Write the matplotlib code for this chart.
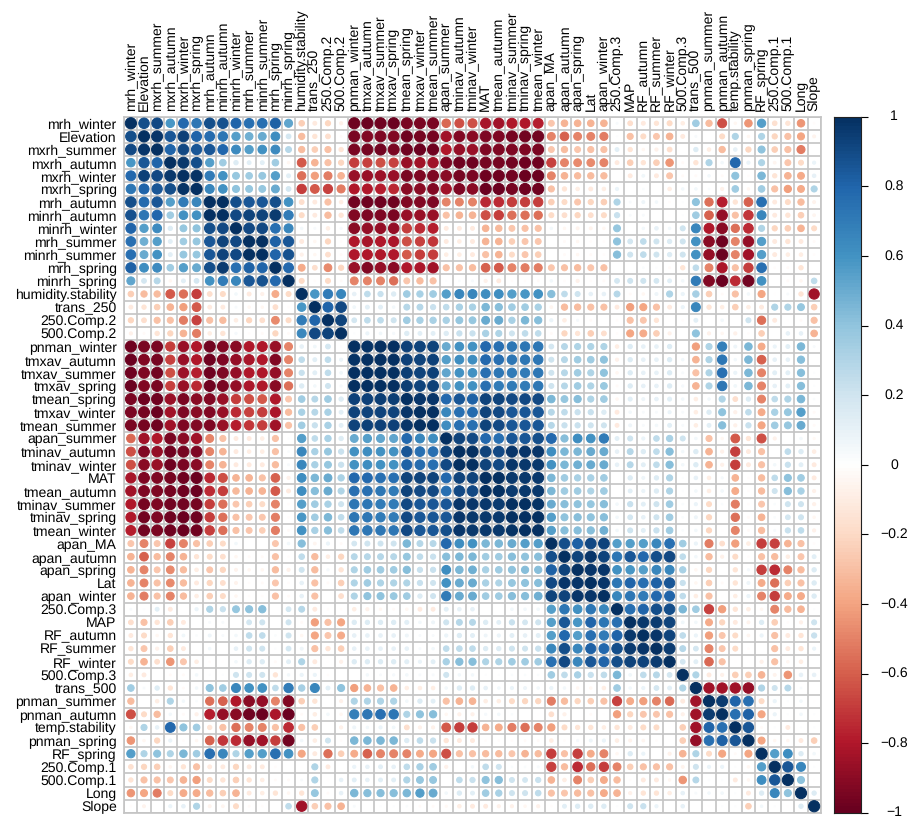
import numpy as np
import matplotlib
matplotlib.use("Agg")
import matplotlib.pyplot as plt
from matplotlib.collections import PatchCollection
from matplotlib.colors import LinearSegmentedColormap
from matplotlib.patches import Circle

plt.rcParams['font.family'] = ['Liberation Sans', 'DejaVu Sans']
plt.rcParams['text.hinting'] = 'no_hinting'
plt.rcParams['text.hinting_factor'] = 1

labels = ["mrh_winter", "Elevation", "mxrh_summer", "mxrh_autumn", "mxrh_winter", "mxrh_spring",
          "mrh_autumn", "minrh_autumn", "minrh_winter", "mrh_summer", "minrh_summer", "mrh_spring",
          "minrh_spring", "humidity.stability", "trans_250", "250.Comp.2", "500.Comp.2", "pnman_winter",
          "tmxav_autumn", "tmxav_summer", "tmxav_spring", "tmean_spring", "tmxav_winter", "tmean_summer",
          "apan_summer", "tminav_autumn", "tminav_winter", "MAT", "tmean_autumn", "tminav_summer",
          "tminav_spring", "tmean_winter", "apan_MA", "apan_autumn", "apan_spring", "Lat", "apan_winter",
          "250.Comp.3", "MAP", "RF_autumn", "RF_summer", "RF_winter", "500.Comp.3", "trans_500",
          "pnman_summer", "pnman_autumn", "temp.stability", "pnman_spring", "RF_spring", "250.Comp.1",
          "500.Comp.1", "Long", "Slope"]

# correlations x100
# humidity group, upper triangle of rows 0-11
humidity_upper = [
    [88, 90, 58, 78, 72, 88, 87, 80, 75, 75, 82, 52],
    [97, 85, 93, 80, 77, 72, 55, 48, 50, 62, 18],
    [80, 90, 85, 85, 79, 63, 55, 60, 63, 28],
    [96, 88, 55, 35, 15, 12, 12, 35, -5],
    [98, 70, 60, 38, 35, 38, 55, 12],
    [65, 60, 40, 38, 38, 50, 18],
    [99, 88, 85, 85, 88, 60],
    [90, 92, 92, 95, 70],
    [90, 90, 75, 65],
    [99, 82, 85],
    [80, 87],
    [78],
]

# rows 13-52 against the first 13 columns
left_block = [
    [-25, -32, -32, -62, -55, -70, -18, -20, 5, -12, -8, -38, -20],
    [-12, -15, -25, -35, -42, -62, -12, -12, 3, -5, -5, -18, -2],
    [-22, -18, -30, -30, -52, -68, -30, -32, -10, -22, -18, -48, -20],
    [-8, -3, -15, -22, -35, -52, -10, -15, 4, -2, -3, -22, -3],
    [-98, -95, -95, -70, -87, -80, -97, -92, -90, -80, -80, -87, -50],
    [-99, -92, -96, -68, -87, -80, -98, -93, -88, -83, -80, -92, -50],
    [-98, -93, -97, -65, -86, -78, -98, -93, -88, -80, -80, -88, -50],
    [-99, -92, -95, -68, -87, -76, -98, -95, -88, -82, -80, -90, -55],
    [-95, -98, -98, -87, -95, -90, -92, -87, -70, -65, -62, -80, -28],
    [-95, -96, -99, -85, -93, -90, -92, -87, -75, -68, -70, -82, -32],
    [-95, -96, -98, -85, -94, -92, -93, -87, -78, -72, -70, -85, -30],
    [-58, -85, -80, -95, -90, -85, -50, -30, -12, -12, -10, -30, 1],
    [-65, -92, -88, -98, -96, -93, -50, -35, -12, -10, -10, -30, 2],
    [-65, -90, -87, -98, -95, -90, -50, -35, -12, -12, -12, -32, 3],
    [-83, -94, -93, -96, -98, -99, -76, -65, -35, -35, -30, -60, -8],
    [-85, -94, -94, -96, -98, -99, -75, -70, -33, -35, -35, -62, -12],
    [-80, -96, -94, -97, -97, -96, -70, -55, -28, -25, -20, -50, -2],
    [-80, -97, -93, -98, -99, -98, -70, -55, -30, -28, -28, -52, -2],
    [-78, -97, -95, -98, -99, -98, -70, -55, -30, -28, -25, -52, -3],
    [-28, -50, -28, -68, -50, -30, -25, -20, 5, 0, 0, -28, 5],
    [-35, -60, -32, -50, -35, -15, -20, -18, -5, -3, -3, -30, -2],
    [-35, -50, -28, -48, -32, -10, -28, -22, -7, -5, -5, -32, -8],
    [-35, -50, -30, -48, -32, -12, -22, -18, -7, -2, -3, -28, -2],
    [-35, -52, -30, -50, -32, -10, -25, -20, -5, -2, -2, -30, -3],
    [3, 1, 12, -12, 0, 8, 30, 22, 38, 40, 42, 0, 18],
    [-18, -30, -15, -25, -12, 0, 3, 3, 0, 18, 20, 0, 20],
    [-12, -20, -5, -15, 6, 2, 7, 3, 5, 25, 25, 2, 20],
    [-15, -28, -8, -25, -12, 0, 5, 0, 10, 20, 20, 1, 18],
    [-20, -35, -18, -45, -28, -10, -2, -1, 5, 15, 15, -3, 12],
    [-10, -12, 0, -3, -3, 5, 1, 1, 20, 20, 20, -15, 5],
    [35, 3, 15, -15, -3, 5, 40, 35, 65, 60, 60, 25, 70],
    [-32, 0, -10, 30, 5, 2, -55, -60, -80, -90, -88, -50, -92],
    [-65, -20, -32, 5, -3, -8, -78, -88, -90, -98, -99, -82, -99],
    [-5, 30, 10, 78, 40, 35, -15, -30, -55, -50, -50, -30, -75],
    [-45, -5, -22, 8, -2, -5, -60, -72, -75, -88, -85, -70, -97],
    [55, 30, 40, 30, 45, 35, 75, 65, 30, 55, 55, 75, 60],
    [-17, -22, -25, -6, -15, -30, -12, -12, -22, -12, -12, -2, 0],
    [-15, -30, -30, -28, -35, -42, -20, -15, -25, -15, -10, -3, -3],
    [-45, -40, -52, -20, -38, -38, -32, -25, -35, -12, -10, -15, -5],
    [-2, -7, 0, 8, 10, 30, -7, -6, -20, -3, -2, 0, 25],
]

# rows 13-51, upper triangle out to the last column
main_upper = [
    [58, 70, 65, 10, 25, 22, 15, 35, 32, 35, 55, 65, 65, 62, 62, 55, 58, 60, 42, 25, 20, 10, 10,
     28, -3, -5, 7, 30, 8, 33, -25, -3, -30, 5, -40, -1, 3, -15, -85],
    [80, 90, 6, 12, 12, 5, 28, 28, 22, 25, 32, 32, 45, 42, 35, 35, 32, -6, -32, -32, -30, -30,
     -12, -42, -40, -30, -12, 8, 65, -15, -10, -25, -10, -12, 30, 30, 38, -25],
    [92, 18, 25, 25, 20, 35, 32, 32, 32, 38, 38, 50, 50, 32, 45, 42, 8, -10, 4, -3, 0,
     -2, -30, -28, -15, -1, -2, 12, 0, 5, 0, 20, -55, -12, -1, -3, -30],
    [1, 8, 6, 4, 15, 12, 12, 15, 22, 22, 32, 30, 20, 25, 25, -3, -22, -15, -25, -18,
     -2, -40, -38, -25, -8, 0, 40, -8, -5, -8, -2, -25, 0, 10, 10, -35],
    [98, 99, 99, 93, 92, 92, 50, 60, 60, 78, 75, 72, 72, 72, 18, 28, 30, 30, 30,
     -10, 15, 10, 10, 15, 0, -42, 30, 68, 7, 45, -38, 8, 12, 45, 3],
    [99, 99, 93, 92, 93, 55, 62, 62, 78, 75, 72, 72, 72, 20, 28, 35, 35, 40,
     -8, 15, 10, 10, 15, 5, -35, 30, 72, 5, 45, -60, 10, 10, 42, 0],
    [99, 94, 92, 93, 52, 60, 60, 75, 72, 70, 70, 72, 20, 28, 35, 30, 40,
     -5, 15, 10, 10, 15, 3, -30, 30, 75, 8, 45, -50, 12, 12, 42, 1],
    [94, 92, 93, 52, 60, 60, 75, 70, 70, 70, 72, 20, 28, 35, 30, 37,
     -3, 15, 10, 10, 15, 4, -35, 30, 72, 6, 45, -50, 10, 12, 42, 1],
    [97, 97, 78, 85, 82, 92, 92, 90, 90, 90, 45, 38, 42, 30, 35,
     -5, 13, 7, 10, 13, 5, -10, 5, 30, -18, 15, -50, 25, 30, 45, 2],
    [99, 65, 75, 77, 92, 90, 85, 85, 85, 28, 25, 22, 22, 15,
     -12, 5, 3, 3, 8, 3, -10, 15, 40, -8, 25, -38, 32, 38, 55, -3],
    [62, 75, 75, 92, 90, 85, 85, 85, 28, 22, 22, 20, 20,
     -12, 7, 3, 5, 12, 3, -10, 12, 42, -8, 22, -40, 35, 38, 50, -3],
    [92, 90, 78, 75, 85, 85, 88, 78, 42, 62, 60, 70,
     12, 20, 8, 25, 32, 20, 5, -30, -5, -62, -15, -65, -8, 0, 5, -4],
    [99, 92, 90, 97, 97, 97, 62, 45, 45, 50, 50,
     10, 28, 15, 25, 42, 5, 15, -35, -8, -70, -12, -30, 0, 25, 15, -10],
    [92, 90, 97, 96, 96, 60, 45, 48, 50, 50,
     10, 28, 12, 25, 42, 5, 15, -35, -8, -70, -12, -30, 5, 22, 12, -12],
    [99, 96, 96, 96, 45, 35, 32, 32, 35,
     0, 15, 7, 15, 30, 1, 10, -10, 4, -35, -2, -32, 25, 40, 35, -12],
    [95, 96, 96, 45, 35, 35, 30, 35,
     0, 12, 8, 15, 30, 1, 5, -10, 5, -38, -2, -32, 20, 42, 32, -8],
    [99, 98, 50, 42, 40, 38, 42,
     5, 22, 12, 20, 35, 2, 8, -20, 2, -52, -2, -28, 2, 20, 20, -8],
    [99, 55, 40, 42, 40, 42,
     5, 18, 10, 20, 35, 2, 7, -22, 0, -55, -3, -35, 2, 18, 20, -5],
    [55, 42, 42, 42, 48,
     5, 20, 12, 22, 35, 2, 5, -22, -1, -50, -3, -32, 3, 22, 25, -8],
    [88, 82, 90, 92, 55, 55, 55, 65, 75, 35, 8, -52, -18, -42, -10, -70, -68, -35, -30, -2],
    [92, 97, 92, 72, 85, 78, 88, 90, 25, 5, -32, -8, -20, -2, -30, -32, -10, -28, 12],
    [97, 97, 60, 58, 55, 65, 65, 32, -5, -22, 0, -15, 4, -70, -75, -50, -32, 15],
    [97, 72, 80, 75, 82, 85, 22, -5, -25, -3, -15, 7, -38, -55, -25, -30, 15],
    [65, 72, 70, 78, 80, 25, -10, -30, -1, -10, 8, -50, -70, -38, -38, 15],
    [75, 80, 88, 88, 45, 35, -68, -42, -15, -10, -5, -50, -32, -35, 1],
    [96, 95, 92, 6, 5, -38, -22, -12, -7, 15, -25, -2, -8, 20],
    [97, 92, 25, 8, -42, -28, -20, -6, 8, -30, -12, -15, 22],
    [95, 28, 18, -50, -28, -20, -2, 0, -30, -12, -15, 8],
    [18, 12, -58, -30, -1, -1, -8, -30, -5, -10, 0],
    [30, -12, -8, -25, -25, -35, -7, -45, 10, 10],
    [-85, -85, -85, -88, 30, 20, 28, 3, 0],
    [95, 80, 75, -20, 8, 1, 5, -1],
    [75, 82, -40, 8, 1, 5, 1],
    [85, -3, 1, -12, 1, 1],
    [-40, -5, -5, -12, -25],
    [55, 62, 15, 5],
    [85, 65, 1],
    [40, -1],
    [15],
]

palette = ["#67001F", "#B2182B", "#D6604D", "#F4A582", "#FDDBC7", "#FFFFFF",
           "#D1E5F0", "#92C5DE", "#4393C3", "#2166AC", "#053061"]
bar_ticks = [1, 0.8, 0.6, 0.4, 0.2, 0, -0.2, -0.4, -0.6, -0.8, -1]

n = len(labels)
corr = np.eye(n)
for i, row in enumerate(humidity_upper):
    corr[i, i + 1:i + 1 + len(row)] = np.array(row) / 100
corr[:13, 13:] = (np.array(left_block) / 100).T
for i, row in enumerate(main_upper):
    r = i + 13
    assert len(row) == n - r - 1, (r, len(row))
    corr[r, r + 1:] = np.array(row) / 100
corr = np.triu(corr) + np.triu(corr, 1).T

cmap = LinearSegmentedColormap.from_list("corr", palette, N=200)

W, H = 914, 819
fig = plt.figure(figsize=(W / 100, H / 100), dpi=100)
ax = fig.add_axes([124.3 / W, 1 - 812.8 / H, 696.4 / W, 696.1 / H])
ax.set_xlim(0, n)
ax.set_ylim(n, 0)

ax.set_xticks(np.arange(n + 1), minor=True)
ax.set_yticks(np.arange(n + 1), minor=True)
ax.grid(which='minor', color='#C4C4C4', lw=1.2)
ax.set_axisbelow(True)
ax.tick_params(which='minor', length=0)
for s in ax.spines.values():
    s.set_color('#C4C4C4')
    s.set_linewidth(1.2)

circles = []
colors = []
for i in range(n):
    for j in range(n):
        if corr[i, j] == 0:
            continue
        circles.append(Circle((j + 0.5, i + 0.5), 0.85 * abs(corr[i, j]) ** 0.5 / 2))
        colors.append(cmap((corr[i, j] + 1) / 2))
ax.add_collection(PatchCollection(circles, facecolors=colors, edgecolors=colors, linewidths=0.72, zorder=3))

ax.set_xticks(np.arange(n) + 0.5)
ax.set_yticks(np.arange(n) + 0.5)
ax.xaxis.tick_top()
ax.set_xticklabels(labels, rotation=90, ha='center', va='bottom', fontsize=10.2)
ax.set_yticklabels(labels, fontsize=10.2)
ax.tick_params(axis='x', which='major', length=0, pad=4.2)
ax.tick_params(axis='y', which='major', length=0, pad=5.5)

# colour bar
cax = fig.add_axes([834 / W, 1 - 812.8 / H, 27 / W, 696.1 / H])
cax.imshow(np.linspace(1, -1, 200).reshape(-1, 1), cmap=cmap, vmin=-1, vmax=1,
           aspect='auto', extent=[0, 1, -1, 1])
cax.set_xticks([])
cax.yaxis.tick_right()
cax.set_yticks(bar_ticks)
cax.set_yticklabels([])
cax.tick_params(axis='y', length=5, width=0.8, color='black')
for s in cax.spines.values():
    s.set_linewidth(0.8)
    s.set_color('#222222')
for t in bar_ticks:
    txt = str(t).replace('-', '\u2212')
    cax.annotate(txt, xy=(1, t), xycoords=('axes fraction', 'data'), xytext=(33 / 1.389, 0),
                 textcoords='offset points', ha='center', va='center', fontsize=10.2)

fig.savefig("out.png", dpi=100)
